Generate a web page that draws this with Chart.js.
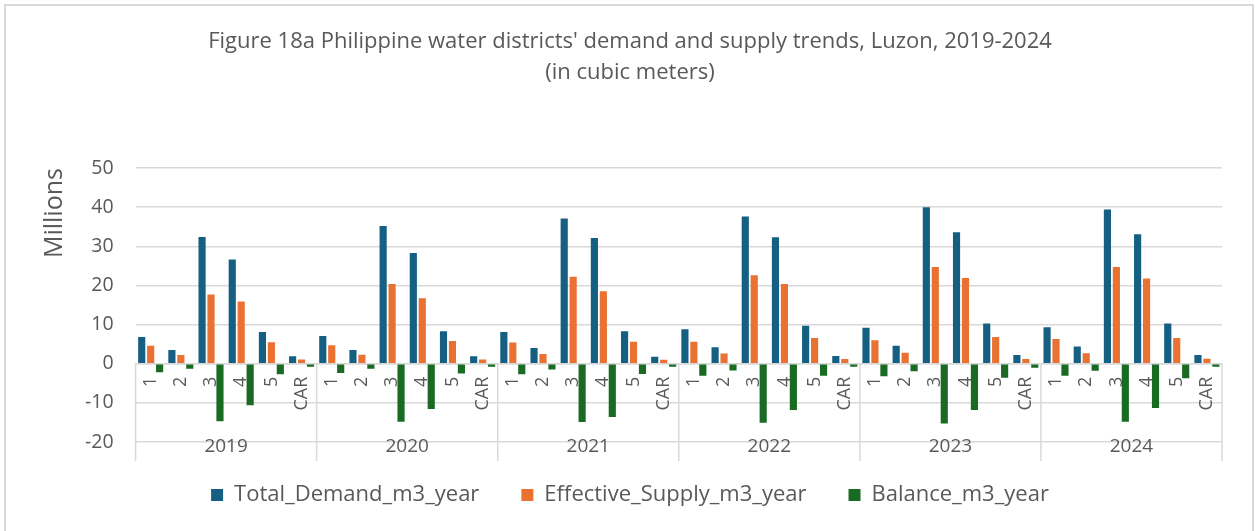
<!DOCTYPE html>
<html>
<head>
<meta charset="utf-8">
<script src="https://cdn.jsdelivr.net/npm/chart.js@4.4.1/dist/chart.umd.min.js"></script>
<style>
  html, body { margin: 0; padding: 0; background: #fff; }
  #wrap { position: relative; width: 1255px; height: 531px; overflow: hidden; }
  #frame { position: absolute; left: 4px; top: 4px; width: 1250px; height: 560px;
           border: 2px solid #d9d9d9; box-sizing: border-box; pointer-events: none; }
</style>
</head>
<body>
<div id="wrap">
  <canvas id="chart" width="1255" height="531"></canvas>
  <div id="frame"></div>
</div>
<script>
// valores en millones de m3 por año
const years = ['2019', '2020', '2021', '2022', '2023', '2024'];
const regions = ['1', '2', '3', '4', '5', 'CAR'];

const totalDemand = [
  6.8, 3.5, 32.4, 26.6, 8.1, 1.9,
  7.1, 3.5, 35.2, 28.3, 8.3, 1.9,
  8.1, 4.0, 37.1, 32.1, 8.3, 1.8,
  8.8, 4.2, 37.6, 32.3, 9.7, 2.0,
  9.2, 4.6, 40.0, 33.6, 10.3, 2.2,
  9.3, 4.4, 39.4, 33.1, 10.3, 2.2
];
const effectiveSupply = [
  4.6, 2.2, 17.7, 15.9, 5.5, 1.1,
  4.7, 2.3, 20.4, 16.7, 5.8, 1.1,
  5.4, 2.5, 22.2, 18.5, 5.6, 1.0,
  5.6, 2.6, 22.6, 20.4, 6.6, 1.2,
  6.0, 2.8, 24.7, 21.9, 6.8, 1.2,
  6.3, 2.7, 24.7, 21.8, 6.6, 1.3
];
const balance = [
  -2.2, -1.3, -14.7, -10.6, -2.7, -0.8,
  -2.4, -1.3, -14.8, -11.6, -2.5, -0.8,
  -2.7, -1.5, -14.9, -13.6, -2.6, -0.8,
  -3.1, -1.7, -15.1, -11.8, -3.1, -0.8,
  -3.2, -1.9, -15.3, -11.8, -3.6, -1.0,
  -3.1, -1.8, -14.8, -11.3, -3.7, -0.8
];

const labels = years.flatMap(() => regions);

const GRAY_TEXT = '#595959';
const GRID = '#d9d9d9';

Chart.defaults.font.family = "'Open Sans', sans-serif";
Chart.defaults.color = GRAY_TEXT;

// separadores verticales entre años, desde el eje 0 hasta debajo de los años
const groupLines = {
  id: 'groupLines',
  beforeDatasetsDraw(chart) {
    const x = chart.scales.x;
    const y = chart.scales.y;
    const half = (x.getPixelForValue(1) - x.getPixelForValue(0)) / 2;
    const top = y.getPixelForValue(0);
    const bottom = chart.chartArea.bottom + 19;
    const ctx = chart.ctx;
    ctx.save();
    ctx.strokeStyle = GRID;
    ctx.lineWidth = 1.5;
    for (let i = 0; i <= years.length; i++) {
      const px = x.getPixelForValue(i * regions.length) - half;
      ctx.beginPath();
      ctx.moveTo(px, top);
      ctx.lineTo(px, bottom);
      ctx.stroke();
    }
    ctx.restore();
  }
};

new Chart(document.getElementById('chart'), {
  type: 'bar',
  data: {
    labels: labels,
    datasets: [
      { label: 'Total_Demand_m3_year', data: totalDemand, backgroundColor: '#156082', xAxisID: 'x' },
      { label: 'Effective_Supply_m3_year', data: effectiveSupply, backgroundColor: '#E97132', xAxisID: 'x' },
      { label: 'Balance_m3_year', data: balance, backgroundColor: '#196B24', xAxisID: 'x' }
    ]
  },
  options: {
    responsive: false,
    animation: false,
    categoryPercentage: 0.89,
    barPercentage: 0.8,
    layout: { padding: { left: 38, right: 33, top: 0, bottom: 15 } },
    plugins: {
      title: {
        display: true,
        text: ["Figure 18a Philippine water districts' demand and supply trends, Luzon, 2019-2024", '(in cubic meters)'],
        color: GRAY_TEXT,
        font: { size: 22, weight: 'normal', lineHeight: 1.41 },
        padding: { top: 26.5, bottom: 79.5 }
      },
      legend: {
        position: 'bottom',
        labels: {
          boxWidth: 12, boxHeight: 12, padding: 42,
          font: { size: 22 }, color: GRAY_TEXT
        }
      },
      tooltip: { enabled: false }
    },
    scales: {
      x: {
        position: { y: 0 },
        offset: true,
        grid: { display: false, drawTicks: false },
        border: { display: true, color: GRID, width: 1.5 },
        ticks: { autoSkip: false, minRotation: 90, maxRotation: 90, padding: 13, font: { size: 18 }, color: GRAY_TEXT }
      },
      x2: {
        type: 'category',
        labels: years,
        position: { y: -20 },
        offset: true,
        grid: { display: false, drawTicks: false },
        border: { display: false },
        ticks: { padding: -7, font: { size: 19 }, color: GRAY_TEXT }
      },
      y: {
        min: -20,
        max: 50,
        ticks: { stepSize: 10, padding: 22, font: { size: 19.5 }, color: GRAY_TEXT },
        grid: { color: GRID, lineWidth: 1.5, drawTicks: false },
        border: { display: false },
        title: {
          display: true, text: 'Millions', align: 'end',
          font: { size: 25, lineHeight: 1.0 }, color: GRAY_TEXT,
          padding: { top: 4, bottom: -4 }
        }
      }
    }
  },
  plugins: [groupLines]
});
</script>
</body>
</html>
